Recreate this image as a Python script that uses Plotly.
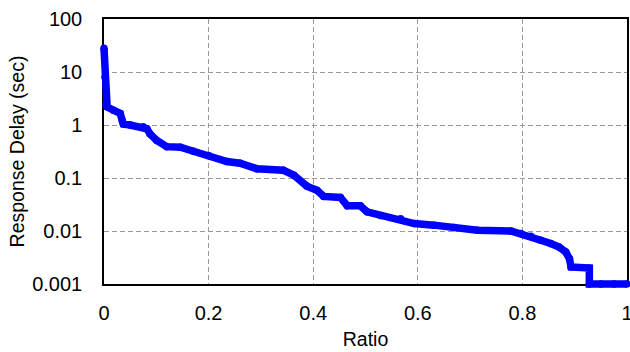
import plotly.graph_objects as go

# ---- data ----
ratio = [0, 0.002, 0.004, 0.006, 0.018, 0.031, 0.035, 0.037, 0.05, 0.075, 0.082,
         0.088, 0.101, 0.12, 0.146, 0.171, 0.2, 0.235, 0.26, 0.292, 0.343, 0.363,
         0.388, 0.407, 0.42, 0.452, 0.465, 0.49, 0.503, 0.529, 0.567, 0.593, 0.631,
         0.669, 0.714, 0.778, 0.797, 0.816, 0.835, 0.854, 0.87, 0.883, 0.89, 0.893,
         0.928, 0.928, 0.95, 0.975, 1.0]
delay = [28, 8, 2.4, 2.2, 1.9, 1.65, 1.2, 1.04, 1.0, 0.93, 0.85,
         0.68, 0.51, 0.39, 0.38, 0.32, 0.265, 0.205, 0.19, 0.15, 0.14, 0.113,
         0.07, 0.059, 0.045, 0.043, 0.030, 0.030, 0.023, 0.0197, 0.017, 0.0138, 0.0129,
         0.0116, 0.0103, 0.010, 0.009, 0.008, 0.0067, 0.0058, 0.005, 0.004, 0.003, 0.0021,
         0.002, 0.001, 0.001, 0.001, 0.001]

x_ticks = [0, 0.2, 0.4, 0.6, 0.8, 1]
x_tick_labels = ["0", "0.2", "0.4", "0.6", "0.8", "1"]
y_ticks = [0.001, 0.01, 0.1, 1, 10, 100]
y_tick_labels = ["0.001", "0.01", "0.1", "1", "10", "100"]

# ---- geometry ----
W, H = 630, 352
ML, MR, MT, MB = 96, 0, 10, 60
PL, PR, PT, PB = 104, 627, 19, 284   # main plot box in px
aw = W - ML - MR
ah = H - MT - MB
ybot = H - MB
xdom = [(PL - ML) / aw, (PR - ML) / aw]
ydom = [(ybot - PB) / ah, (ybot - PT) / ah]
x2range = [(ML - PL) / (PR - PL), (W - MR - PL) / (PR - PL)]
dec = (PB - PT) / 5.0
y2range = [-3 - (ybot - PB) / dec, 2 + (PT - MT) / dec]

FONT = "Liberation Sans, Arial, sans-serif"
blue = "#0000ff"

fig = go.Figure()
fig.add_trace(go.Scatter(x=[None], y=[None], xaxis="x", yaxis="y",
                         showlegend=False, hoverinfo="skip"))
fig.add_trace(go.Scatter(x=ratio, y=delay, xaxis="x2", yaxis="y2",
                         mode="lines+markers",
                         line=dict(color=blue, width=7.5),
                         marker=dict(size=7.5, color=blue),
                         showlegend=False))

grid = dict(showgrid=True, gridcolor="#999999", gridwidth=1, griddash="5px,3px",
            showline=True, linecolor="black", linewidth=1.5, mirror=True,
            ticks="", zeroline=False, automargin=False, ticklabeloverflow="allow",
            tickfont=dict(family=FONT, size=20, color="black"))

fig.update_layout(
    width=W, height=H,
    margin=dict(l=ML, r=MR, t=MT, b=MB),
    paper_bgcolor="white", plot_bgcolor="rgba(0,0,0,0)",
    font=dict(family=FONT, color="black"),
    showlegend=False,
    xaxis=dict(domain=xdom, range=[0, 1], anchor="y",
               tickvals=x_ticks, ticktext=x_tick_labels, ticklabelstandoff=10,
               title=dict(text="Ratio", font=dict(family=FONT, size=19.5), standoff=10),
               **grid),
    yaxis=dict(domain=ydom, type="log", range=[-3, 2], anchor="x",
               tickvals=y_ticks, ticktext=y_tick_labels, ticklabelstandoff=16,
               title=dict(text="Response Delay (sec)", font=dict(family=FONT, size=19.5), standoff=2),
               **grid),
    xaxis2=dict(domain=[0, 1], range=x2range, visible=False, anchor="y2"),
    yaxis2=dict(domain=[0, 1], type="log", range=y2range, visible=False, anchor="x2"),
)

fig.write_html("out.html", config={"displayModeBar": False},
               post_script="document.body.style.margin='0';document.body.style.padding='0';")
